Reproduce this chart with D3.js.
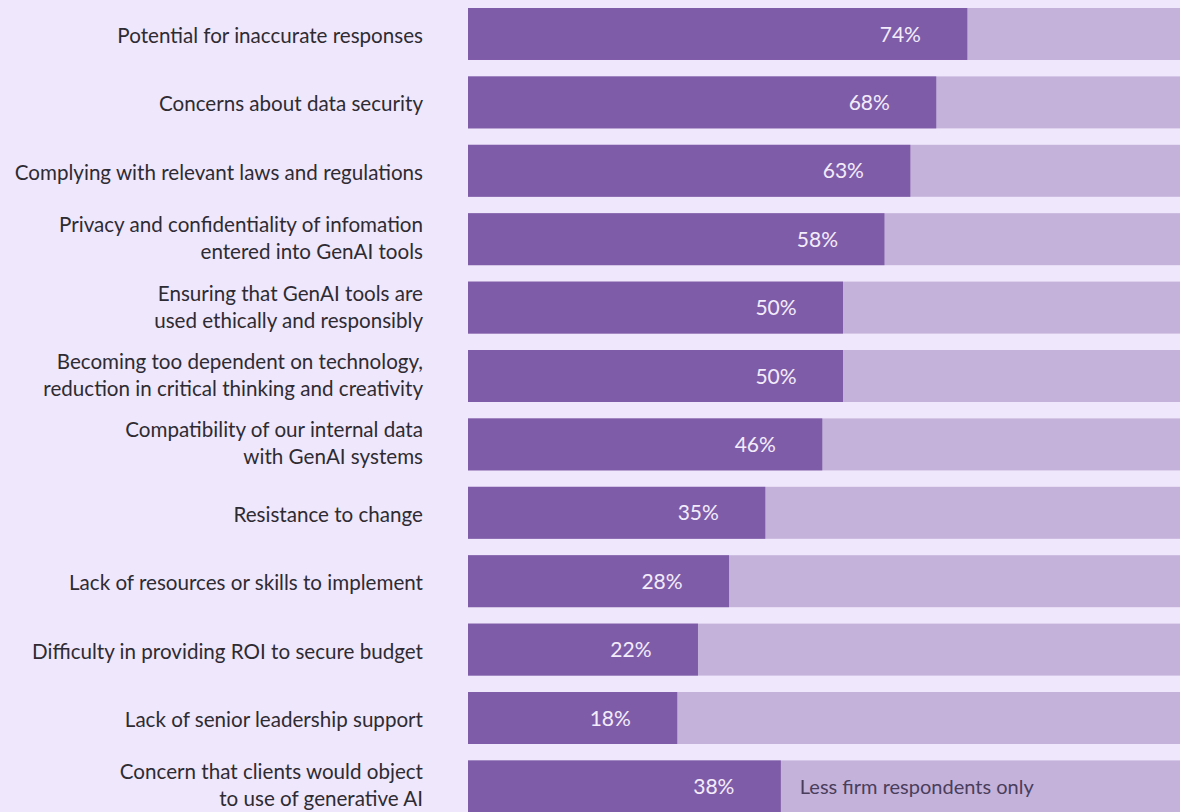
<!DOCTYPE html>
<html>
<head>
<meta charset="utf-8">
<script src="https://cdn.jsdelivr.net/npm/d3@7"></script>
<style>
  html, body { margin: 0; padding: 0; background: #EFE7FB; }
  svg { display: block; }
</style>
</head>
<body>
<div id="chart"></div>
<script>
// concerns about generative AI, share of respondents
const categories = [
  "Potential for inaccurate responses",
  "Concerns about data security",
  "Complying with relevant laws and regulations",
  "Privacy and confidentiality of infomation\nentered into GenAI tools",
  "Ensuring that GenAI tools are\nused ethically and responsibly",
  "Becoming too dependent on technology,\nreduction in critical thinking and creativity",
  "Compatibility of our internal data\nwith GenAI systems",
  "Resistance to change",
  "Lack of resources or skills to implement",
  "Difficulty in providing ROI to secure budget",
  "Lack of senior leadership support",
  "Concern that clients would object\nto use of generative AI"
];
const values = [74, 68, 63, 58, 50, 50, 46, 35, 28, 22, 18, 38];
const notes = ["", "", "", "", "", "", "", "", "", "", "", "Less firm respondents only"];

const width = 1180;
const height = 812;
const barLeft = 468;

const colDark = "#7F5CA8";
const colLight = "#C4B2DA";
const colText = "#2E2B33";
const font = "Lato, 'Open Sans', sans-serif";

const svg = d3.select("#chart")
  .append("svg")
  .attr("width", width)
  .attr("height", height);

svg.append("rect")
  .attr("width", width)
  .attr("height", height)
  .attr("fill", "#EFE7FB");

const rows = categories.map((c, i) => ({ label: c, value: values[i], note: notes[i] }));

// rows
const y = d3.scaleBand()
  .domain(d3.range(rows.length))
  .range([8, 812.4])
  .paddingInner(0.24)
  .paddingOuter(0);

// bars in the original are not strictly proportional; a linear fit with a stub
const x = d3.scaleLinear()
  .domain([0, 100])
  .range([barLeft + 116, barLeft + 634]);

const row = svg.append("g")
  .selectAll("g")
  .data(rows)
  .join("g")
  .attr("transform", (d, i) => `translate(0,${y(i)})`);

// background track
row.append("rect")
  .attr("x", barLeft)
  .attr("width", width - barLeft)
  .attr("height", y.bandwidth())
  .attr("fill", colLight);

// value bar
row.append("rect")
  .attr("x", barLeft)
  .attr("width", d => x(d.value) - barLeft)
  .attr("height", y.bandwidth())
  .attr("fill", colDark);

// value label
row.append("text")
  .attr("x", d => x(d.value) - 67)
  .attr("y", y.bandwidth() / 2)
  .attr("dy", "0.36em")
  .attr("text-anchor", "middle")
  .attr("font-family", font)
  .attr("font-size", "21px")
  .attr("fill", "#F3ECFC")
  .text(d => d.value + "%");

// note inside the track
row.filter(d => d.note)
  .append("text")
  .attr("x", d => x(d.value) + 19)
  .attr("y", y.bandwidth() / 2)
  .attr("dy", "0.36em")
  .attr("font-family", font)
  .attr("font-size", "20px")
  .attr("fill", "#4A3E5C")
  .text(d => d.note);

// category labels, one or two lines
const lineH = 27;
row.append("text")
  .attr("text-anchor", "end")
  .attr("font-family", font)
  .attr("font-size", "20.6px")
  .attr("fill", colText)
  .each(function(d) {
    const lines = d.label.split("\n");
    const t = d3.select(this);
    const first = lines.length === 1 ? y.bandwidth() / 2 + 9 : y.bandwidth() / 2 - 7;
    lines.forEach((ln, k) => {
      t.append("tspan")
        .attr("x", 423)
        .attr("y", first + k * lineH)
        .text(ln);
    });
  });
</script>
</body>
</html>
